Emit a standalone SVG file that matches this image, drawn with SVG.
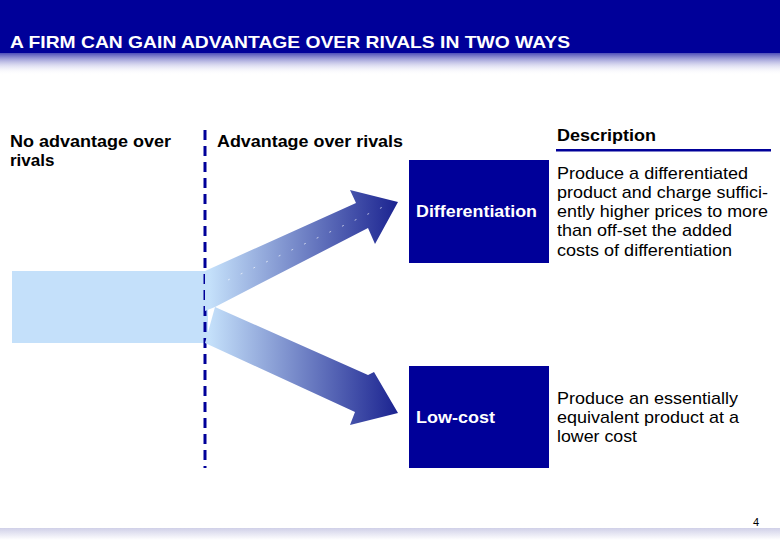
<svg xmlns="http://www.w3.org/2000/svg" width="780" height="540" viewBox="0 0 780 540">
<style>
text{font-family:"Liberation Sans",Arial,sans-serif;font-weight:bold;font-size:17px}
.w{fill:#fff}.k{fill:#000}.d{font-weight:normal}
.box{fill:#000099}
</style>
<defs>
<linearGradient id="hg" x1="0" y1="0" x2="0" y2="1"><stop offset="0" stop-color="#000099" stop-opacity="0.7"/><stop offset="1" stop-color="#ffffff" stop-opacity="0"/></linearGradient>
<linearGradient id="ag" gradientUnits="userSpaceOnUse" x1="210" y1="0" x2="398" y2="0"><stop offset="0" stop-color="#c4e0fa"/><stop offset="1" stop-color="#1b2390"/></linearGradient>
<linearGradient id="bg" x1="0" y1="0" x2="0" y2="1"><stop offset="0" stop-color="#d0d0e8"/><stop offset="1" stop-color="#ffffff"/></linearGradient>
</defs>
<rect width="780" height="540" fill="#fff"/>
<rect x="0" y="0" width="780" height="53" fill="#000099"/>
<rect x="0" y="53" width="780" height="22" fill="url(#hg)"/>
<rect x="0" y="528" width="780" height="12" fill="url(#bg)"/>
<text class="w" x="10" y="48" textLength="560" lengthAdjust="spacingAndGlyphs">A FIRM CAN GAIN ADVANTAGE OVER RIVALS IN TWO WAYS</text>
<g id="left-label"><text class="k" x="10" y="147" textLength="161" lengthAdjust="spacingAndGlyphs">No advantage over</text><text class="k" x="10" y="166">rivals</text></g>
<g id="right-label"><text class="k" x="217" y="147" textLength="186" lengthAdjust="spacingAndGlyphs">Advantage over rivals</text></g>
<g id="desc-header"><text class="k" x="557" y="141" textLength="99" lengthAdjust="spacingAndGlyphs">Description</text><rect x="556" y="149" width="215" height="2.5" fill="#000099"/></g>
<g id="band"><rect x="12" y="271" width="196" height="72" fill="#c4e0fa"/></g>
<g id="connectors">
<line x1="205" y1="130" x2="205" y2="468" stroke="#000099" stroke-width="3" stroke-dasharray="10,6"/>
<polygon points="205,271 356,203 350,190 398,202 375,244 368,228 215,307 205,311" fill="url(#ag)"/>
<polyline points="228,280 385,206" fill="none" stroke="#fff" stroke-width="0.8" stroke-dasharray="2,12" opacity="0.8"/>
<polygon points="215,307 368,375 374,372 398,413 350,425 355,412 205,343" fill="url(#ag)"/>
</g>
<g id="differentiation"><rect class="box" x="409" y="160" width="140" height="103"/><text class="w" x="416" y="217" textLength="121" lengthAdjust="spacingAndGlyphs">Differentiation</text></g>
<g id="lowcost"><rect class="box" x="409" y="366" width="140" height="102"/><text class="w" x="416" y="423" textLength="79" lengthAdjust="spacingAndGlyphs">Low-cost</text></g>
<g id="desc1"><text class="k d" x="557" y="179" textLength="191" lengthAdjust="spacingAndGlyphs">Produce a differentiated</text><text class="k d" x="557" y="198" textLength="211" lengthAdjust="spacingAndGlyphs">product and charge suffici-</text><text class="k d" x="557" y="217" textLength="211" lengthAdjust="spacingAndGlyphs">ently higher prices to more</text><text class="k d" x="557" y="236" textLength="175" lengthAdjust="spacingAndGlyphs">than off-set the added</text><text class="k d" x="557" y="256" textLength="175" lengthAdjust="spacingAndGlyphs">costs of differentiation</text></g>
<g id="desc2"><text class="k d" x="557" y="404" textLength="181" lengthAdjust="spacingAndGlyphs">Produce an essentially</text><text class="k d" x="557" y="423" textLength="182" lengthAdjust="spacingAndGlyphs">equivalent product at a</text><text class="k d" x="557" y="442" textLength="80" lengthAdjust="spacingAndGlyphs">lower cost</text></g>
<text class="k d" x="753" y="526" style="font-size:11px">4</text>
</svg>
